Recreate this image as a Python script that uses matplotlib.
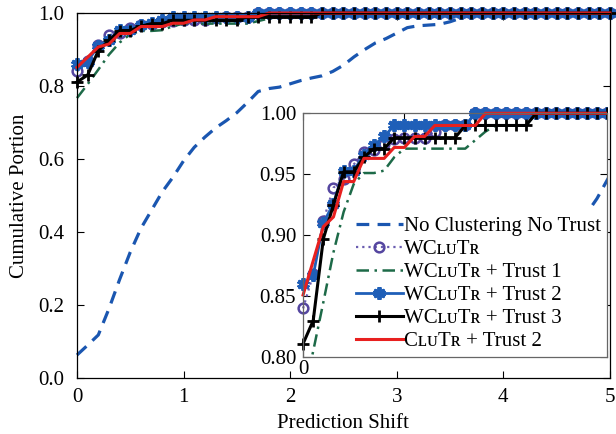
import numpy as np
import matplotlib
matplotlib.use("Agg")
from matplotlib import pyplot as plt
from matplotlib.patches import Rectangle

plt.rcParams['font.family'] = ['Liberation Serif', 'DejaVu Serif']

# prediction shift, 0.0 .. 5.0 in steps of 0.1
shift = np.round(np.arange(0, 51) * 0.1, 1)

no_trust = [0.063, 0.090, 0.118, 0.190, 0.270, 0.345, 0.410, 0.460, 0.510, 0.550,
            0.595, 0.632, 0.660, 0.685, 0.705, 0.727, 0.755, 0.785, 0.793, 0.797,
            0.806, 0.815, 0.822, 0.828, 0.840, 0.857, 0.880, 0.900, 0.918, 0.930,
            0.945, 0.960, 0.965, 0.967, 0.969, 0.976, 0.986, 0.995, 1.0, 1.0,
            1.0, 1.0, 1.0, 1.0, 1.0, 1.0, 1.0, 1.0, 1.0, 1.0, 1.0]
wclutr = [0.840, 0.868, 0.912, 0.939, 0.946, 0.958, 0.968, 0.970, 0.975, 0.979,
          0.980, 0.980, 0.980, 0.985, 0.990, 0.990, 0.990, 1.0, 1.0, 1.0,
          1.0, 1.0, 1.0, 1.0, 1.0, 1.0, 1.0, 1.0, 1.0, 1.0,
          1.0, 1.0, 1.0, 1.0, 1.0, 1.0, 1.0, 1.0, 1.0, 1.0,
          1.0, 1.0, 1.0, 1.0, 1.0, 1.0, 1.0, 1.0, 1.0, 1.0, 1.0]
trust1 = [0.767, 0.805, 0.845, 0.886, 0.919, 0.942, 0.951, 0.951, 0.953, 0.964,
          0.971, 0.971, 0.971, 0.971, 0.971, 0.971, 0.971, 0.978, 0.985, 0.990,
          0.990, 0.990, 0.990, 1.0, 1.0, 1.0, 1.0, 1.0, 1.0, 1.0,
          1.0, 1.0, 1.0, 1.0, 1.0, 1.0, 1.0, 1.0, 1.0, 1.0,
          1.0, 1.0, 1.0, 1.0, 1.0, 1.0, 1.0, 1.0, 1.0, 1.0, 1.0]
trust2 = [0.860, 0.867, 0.910, 0.926, 0.953, 0.953, 0.966, 0.974, 0.981, 0.990,
          0.990, 0.990, 0.990, 0.990, 0.990, 0.990, 0.990, 1.0, 1.0, 1.0,
          1.0, 1.0, 1.0, 1.0, 1.0, 1.0, 1.0, 1.0, 1.0, 1.0,
          1.0, 1.0, 1.0, 1.0, 1.0, 1.0, 1.0, 1.0, 1.0, 1.0,
          1.0, 1.0, 1.0, 1.0, 1.0, 1.0, 1.0, 1.0, 1.0, 1.0, 1.0]
trust3 = [0.811, 0.830, 0.897, 0.925, 0.952, 0.952, 0.964, 0.971, 0.971, 0.980,
          0.980, 0.980, 0.980, 0.980, 0.980, 0.980, 0.990, 0.990, 0.990, 0.990,
          0.990, 0.990, 0.990, 1.0, 1.0, 1.0, 1.0, 1.0, 1.0, 1.0,
          1.0, 1.0, 1.0, 1.0, 1.0, 1.0, 1.0, 1.0, 1.0, 1.0,
          1.0, 1.0, 1.0, 1.0, 1.0, 1.0, 1.0, 1.0, 1.0, 1.0, 1.0]
clutr2 = [0.851, 0.879, 0.907, 0.915, 0.944, 0.944, 0.963, 0.963, 0.963, 0.972,
          0.972, 0.981, 0.981, 0.990, 0.990, 0.990, 0.990, 0.990, 1.0, 1.0,
          1.0, 1.0, 1.0, 1.0, 1.0, 1.0, 1.0, 1.0, 1.0, 1.0,
          1.0, 1.0, 1.0, 1.0, 1.0, 1.0, 1.0, 1.0, 1.0, 1.0,
          1.0, 1.0, 1.0, 1.0, 1.0, 1.0, 1.0, 1.0, 1.0, 1.0, 1.0]

labels = ['No Clustering No Trust', 'WCʟᴜTʀ', 'WCʟᴜTʀ + Trust 1',
          'WCʟᴜTʀ + Trust 2', 'WCʟᴜTʀ + Trust 3', 'CʟᴜTʀ + Trust 2']

main_ticks_x = [0, 1, 2, 3, 4, 5]
main_ticks_y = [0.0, 0.2, 0.4, 0.6, 0.8, 1.0]
inset_ticks_y = [0.80, 0.85, 0.90, 0.95, 1.00]

styles = [
    dict(color='#1a56b0', lw=2.3, ls=(0, (4, 2.6))),
    dict(color='#6a5cb0', lw=1.6, ls=(0, (1, 1.8)), marker='o', ms=7,
         mfc='none', mec='#5546a0', mew=1.8),
    dict(color='#1d6a48', lw=1.8, ls=(0, (5, 2.2, 1, 2.2))),
    dict(color='#1f5fb8', lw=2.0, ls='-', marker=(6, 2, 0), ms=9, mew=2.8),
    dict(color='black', lw=2.2, ls='-', marker='+', ms=8, mew=2.0),
    dict(color='#e8201f', lw=2.2, ls='-'),
]
series = [no_trust, wclutr, trust1, trust2, trust3, clutr2]


def style_axes(ax, fs, spine_color, lw):
    ax.tick_params(direction='in', top=True, right=True, labelsize=fs,
                   width=0.8, length=5, colors='black')
    for sp in ax.spines.values():
        sp.set_color(spine_color)
        sp.set_linewidth(lw)


fig = plt.figure(figsize=(6.16, 4.34), dpi=100)

# main axes
ax = fig.add_axes([0.125, 0.129, 0.865, 0.841])
for y, st in zip(series, styles):
    ax.plot(shift, y, clip_on=False, **st)
ax.set_xlim(0, 5)
ax.set_ylim(0, 1)
ax.set_xticks(main_ticks_x)
ax.set_yticks(main_ticks_y)
ax.set_yticklabels(['%.1f' % v for v in main_ticks_y])
style_axes(ax, 15, 'black', 0.9)
ax.tick_params(axis='y', pad=9)
ax.tick_params(axis='x', pad=7)
ax.set_xlabel('Prediction Shift', fontsize=15, labelpad=5)
ax.set_ylabel('Cumulative Portion', fontsize=15, labelpad=7)

# inset axes
ax2 = fig.add_axes([0.492, 0.177, 0.4935, 0.562])
ax2.set_facecolor('white')
clip = Rectangle((-0.03, 0), 1.03, 1.06, transform=ax2.transAxes)
handles = []
for y, st, lab in zip(series, styles, labels):
    ln, = ax2.plot(shift, y, label=lab, **st)
    ln.set_clip_path(clip)
    handles.append(ln)
ax2.set_xlim(0, 3)
ax2.set_ylim(0.8, 1.0)
ax2.set_xticks([0, 1, 2, 3])
ax2.set_xticklabels(['0', '', '', ''])
ax2.set_yticks(inset_ticks_y)
ax2.set_yticklabels(['%.2f' % v for v in inset_ticks_y])
style_axes(ax2, 15, '#666666', 0.9)
ax2.tick_params(axis='y', pad=5)
ax2.tick_params(axis='x', pad=2)

leg = ax2.legend(handles=handles, loc='lower right', bbox_to_anchor=(1.0, 0.0),
                 frameon=True, fancybox=False, facecolor='white',
                 edgecolor='white', framealpha=1.0, fontsize=15,
                 handlelength=2.25, handletextpad=0.05, labelspacing=0.16,
                 borderaxespad=0.0, borderpad=0.3)
leg.get_frame().set_linewidth(0)
# keep the inset spines drawn over the legend box
for sp in ax2.spines.values():
    sp.set_zorder(6)

fig.savefig('out.png', dpi=100)
